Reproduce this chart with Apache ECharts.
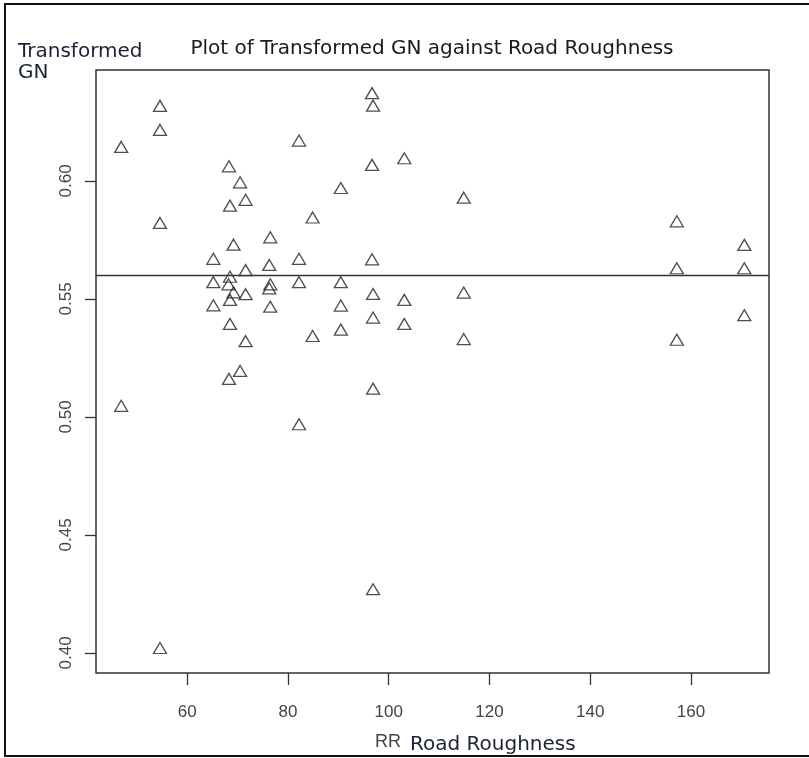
<!DOCTYPE html>
<html>
<head>
<meta charset="utf-8">
<script src="https://cdn.jsdelivr.net/npm/echarts@6/dist/echarts.min.js"></script>
<style>
  html, body { margin: 0; padding: 0; background: #fff; }
  #chart { width: 809px; height: 758px; }
</style>
</head>
<body>
<div id="chart"></div>
<script>
// Road roughness (RR) and transformed GN readings, grouped by RR value
const roughness = [
  46.9, 46.9,
  54.6, 54.6, 54.6, 54.6,
  65.2, 65.2, 65.2,
  68.3, 68.3, 68.2,
  68.5, 68.5, 68.5, 68.5,
  69.2, 69.2,
  70.5, 70.5,
  71.6, 71.6, 71.6, 71.6,
  76.3, 76.3,
  76.5, 76.5, 76.5,
  82.2, 82.2, 82.2, 82.2,
  84.9, 84.9,
  90.5, 90.5, 90.5, 90.5,
  96.7, 96.7, 96.7,
  96.9, 96.9, 96.9, 96.9, 96.9,
  103.1, 103.1, 103.1,
  114.9, 114.9, 114.9,
  157.2, 157.2, 157.2,
  170.6, 170.6, 170.6
];
const transformedGN = [
  0.6144, 0.5047,
  0.6318, 0.6216, 0.5822, 0.4021,
  0.5670, 0.5571, 0.5473,
  0.6062, 0.5161, 0.5562,
  0.5895, 0.5594, 0.5496, 0.5394,
  0.5730, 0.5528,
  0.5994, 0.5195,
  0.5920, 0.5622, 0.5520, 0.5321,
  0.5644, 0.5545,
  0.5761, 0.5562, 0.5467,
  0.6171, 0.5670, 0.5571, 0.4969,
  0.5845, 0.5343,
  0.5970, 0.5571, 0.5472, 0.5370,
  0.6372, 0.6068, 0.5668,
  0.6319, 0.5521, 0.5421, 0.5120, 0.4270,
  0.6096, 0.5496, 0.5394,
  0.5929, 0.5527, 0.5330,
  0.5829, 0.5630, 0.5327,
  0.5729, 0.5630, 0.5431
];
// Horizontal reference level (average transformed GN)
const meanLevel = 0.5592;

const xTicks = [60, 80, 100, 120, 140, 160];
const yTicks = [0.40, 0.45, 0.50, 0.55, 0.60];

const points = roughness.map((x, i) => [x, transformedGN[i]]);

const chart = echarts.init(document.getElementById('chart'), null, { renderer: 'canvas' });

const tickFont = "'Liberation Sans', Arial, sans-serif";
const labelFont = "'DejaVu Sans', Tahoma, sans-serif";

chart.setOption({
  animation: false,
  backgroundColor: '#ffffff',
  grid: {
    left: 96, right: 40, top: 70, bottom: 85,
    show: true,
    borderColor: '#333',
    borderWidth: 1.5,
    backgroundColor: 'transparent'
  },
  xAxis: {
    type: 'value',
    min: 41.9,
    max: 175.5,
    splitLine: { show: false },
    axisLine: { show: false },
    axisTick: {
      show: true, inside: false, length: 12, customValues: xTicks,
      lineStyle: { color: '#333', width: 1.3 }
    },
    axisLabel: {
      show: true, customValues: xTicks, margin: 31,
      fontFamily: tickFont, fontSize: 17, color: '#444',
      formatter: v => String(Math.round(v))
    }
  },
  yAxis: {
    type: 'value',
    min: 0.3915,
    max: 0.647,
    splitLine: { show: false },
    axisLine: { show: false },
    axisTick: {
      show: true, inside: false, length: 11, customValues: yTicks,
      lineStyle: { color: '#333', width: 1.3 }
    },
    axisLabel: {
      show: true, customValues: yTicks, margin: 21, rotate: 90,
      fontFamily: tickFont, fontSize: 17, color: '#444',
      formatter: v => v.toFixed(2)
    }
  },
  graphic: [
    // page frame (left, top, bottom)
    { type: 'line', shape: { x1: 5, y1: 4, x2: 5, y2: 757 }, style: { stroke: '#111', lineWidth: 2 } },
    { type: 'line', shape: { x1: 4, y1: 4, x2: 809, y2: 4 }, style: { stroke: '#111', lineWidth: 2 } },
    { type: 'line', shape: { x1: 4, y1: 756, x2: 809, y2: 756 }, style: { stroke: '#111', lineWidth: 2 } },
    {
      type: 'text',
      style: {
        x: 432, y: 49, text: 'Plot of Transformed GN against Road Roughness',
        font: "20px " + labelFont, fill: '#1a1a1a',
        textAlign: 'center', textVerticalAlign: 'middle'
      }
    },
    {
      type: 'text',
      style: {
        x: 18, y: 52, text: 'Transformed',
        font: "20px " + labelFont, fill: '#1b2233',
        textAlign: 'left', textVerticalAlign: 'middle'
      }
    },
    {
      type: 'text',
      style: {
        x: 18, y: 73, text: 'GN',
        font: "20px " + labelFont, fill: '#1b2233',
        textAlign: 'left', textVerticalAlign: 'middle'
      }
    },
    {
      type: 'text',
      style: {
        x: 388, y: 742, text: 'RR',
        font: "18px " + tickFont, fill: '#444',
        textAlign: 'center', textVerticalAlign: 'middle'
      }
    },
    {
      type: 'text',
      style: {
        x: 410, y: 745, text: 'Road Roughness',
        font: "20px " + labelFont, fill: '#1b2233',
        textAlign: 'left', textVerticalAlign: 'middle'
      }
    }
  ],
  series: [{
    type: 'scatter',
    data: points,
    symbol: 'triangle',
    symbolSize: [13, 11],
    itemStyle: { color: 'rgba(255,255,255,0)', borderColor: '#222', borderWidth: 1.3 },
    emphasis: { disabled: true },
    markLine: {
      silent: true,
      symbol: ['none', 'none'],
      label: { show: false },
      lineStyle: { color: '#333', width: 1.3, type: 'solid' },
      data: [{ yAxis: meanLevel }]
    }
  }]
});
</script>
</body>
</html>
